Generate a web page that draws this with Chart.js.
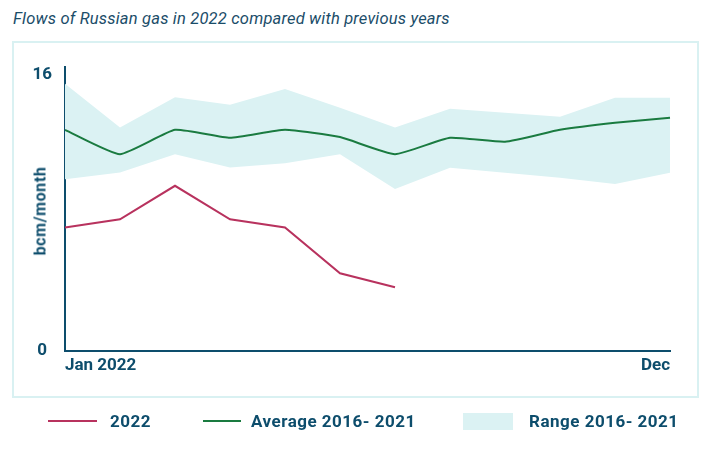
<!DOCTYPE html>
<html>
<head>
<meta charset="utf-8">
<script src="https://cdn.jsdelivr.net/npm/chart.js@4.4.1/dist/chart.umd.min.js"></script>
<style>
  html, body { margin:0; padding:0; background:#fff; }
  body { width:718px; height:451px; position:relative; overflow:hidden; font-family: Roboto, "Noto Sans", sans-serif; }
  #title { position:absolute; left:13px; top:9px; font-style:italic; font-size:16.5px; letter-spacing:0.2px; color:#1b4d69; white-space:nowrap; }
  #frame { position:absolute; left:12px; top:41px; width:683px; height:353px; border:2px solid #d9f1f2; }
  #wrap { position:absolute; left:0; top:0; width:718px; height:451px; }
  #ytitle { position:absolute; left:40px; top:211px; transform:translate(-50%,-50%) rotate(-90deg); font-weight:bold; font-size:16px; letter-spacing:0.6px; color:#0d4d6c; white-space:nowrap; }
  .leg { position:absolute; top:411px; height:20px; font-weight:bold; font-size:17px; letter-spacing:0.5px; color:#0d4d6c; white-space:nowrap; line-height:20px; }
  .sw { position:absolute; }
</style>
</head>
<body>
<div id="title">Flows of Russian gas in 2022 compared with previous years</div>
<div id="frame"></div>
<div id="wrap"><canvas id="c" width="718" height="451"></canvas></div>
<div id="ytitle">bcm/month</div>
<div class="sw" style="left:48px;top:420px;width:49px;height:2px;background:#b8325e"></div>
<div class="leg" style="left:110px">2022</div>
<div class="sw" style="left:203px;top:420px;width:38px;height:2px;background:#1a7b40"></div>
<div class="leg" style="left:251px">Average 2016- 2021</div>
<div class="sw" style="left:463px;top:413px;width:50px;height:17px;background:#dbf2f3"></div>
<div class="leg" style="left:529px">Range 2016- 2021</div>
<script>
const months = ['Jan 2022','Feb','Mar','Apr','May','Jun','Jul','Aug','Sep','Oct','Nov','Dec'];
const yTickValues = [0, 16];
const flows2022 = [7.15, 7.63, 9.57, 7.63, 7.15, 4.50, 3.69];
const average2016_2021 = [12.81, 11.40, 12.81, 12.35, 12.81, 12.39, 11.40, 12.35, 12.12, 12.81, 13.22, 13.51];
const rangeMax2016_2021 = [15.48, 12.95, 14.70, 14.26, 15.17, 14.09, 12.95, 14.03, 13.80, 13.57, 14.67, 14.67];
const rangeMin2016_2021 = [9.95, 10.34, 11.40, 10.63, 10.88, 11.40, 9.39, 10.61, 10.32, 10.03, 9.68, 10.32];

const textColor = '#0d4d6c';
new Chart(document.getElementById('c'), {
  type: 'line',
  data: {
    labels: months,
    datasets: [
      { label: '2022', data: flows2022, borderColor: '#b8325e', borderWidth: 2, pointRadius: 0, tension: 0, fill: false, order: 0 },
      { label: 'Average 2016- 2021', data: average2016_2021, borderColor: '#1a7b40', borderWidth: 2, pointRadius: 0, tension: 0.15, fill: false, order: 1 },
      { label: 'Range max', data: rangeMax2016_2021, borderWidth: 0, borderColor: 'rgba(0,0,0,0)', backgroundColor: '#dbf2f3', pointRadius: 0, tension: 0, fill: '+1', order: 2 },
      { label: 'Range min', data: rangeMin2016_2021, borderWidth: 0, borderColor: 'rgba(0,0,0,0)', pointRadius: 0, tension: 0, fill: false, order: 3 }
    ]
  },
  options: {
    responsive: false,
    animation: false,
    devicePixelRatio: 1,
    layout: { padding: { left: 0, top: 67, right: 48, bottom: 0 } },
    plugins: { legend: { display: false }, tooltip: { enabled: false } },
    scales: {
      x: {
        type: 'category',
        offset: false,
        grid: { display: false, drawTicks: false },
        border: { display: true, color: '#0d4d6c', width: 2 },
        ticks: {
          autoSkip: false, maxRotation: 0, align: 'inner', padding: 5,
          color: textColor, font: { family: 'Roboto', weight: 'bold', size: 17 },
          callback: function(v, i) { return (i === 0 || i === months.length - 1) ? months[i] : ''; }
        },
        afterFit: function(s) { s.height = 100; }
      },
      y: {
        min: 0, max: 16.45,
        grid: { display: false, drawTicks: false },
        border: { display: true, color: '#0d4d6c', width: 2 },
        afterBuildTicks: function(s) { s.ticks = yTickValues.map(v => ({ value: v })); },
        ticks: {
          crossAlign: 'center', padding: 13,
          color: textColor, font: { family: 'Roboto', weight: 'bold', size: 17 }
        },
        afterFit: function(s) { s.width = 65; }
      }
    }
  }
});
</script>
</body>
</html>
